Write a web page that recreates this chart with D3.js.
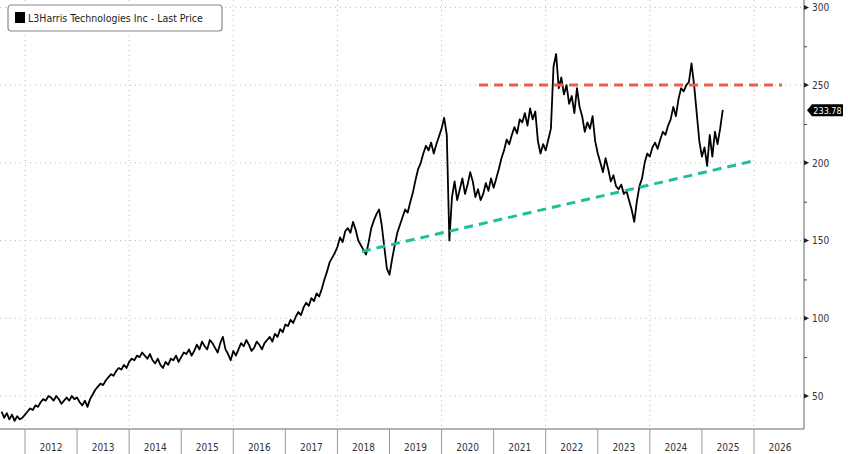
<!DOCTYPE html>
<html><head><meta charset="utf-8">
<script src="https://cdn.jsdelivr.net/npm/d3@7"></script>
<style>body{margin:0;background:#fff}svg{display:block}</style>
</head><body><svg id="c" width="848" height="454"></svg>
<script>
const years = [2012,2013,2014,2015,2016,2017,2018,2019,2020,2021,2022,2023,2024,2025,2026];
const yTicks = [50,100,150,200,250,300];
// prices sampled every 0.05 year, one list per calendar year
const p2011 = [40,36,39,35,38,34,37,35,36];
const p2012 = [38,40,42,41,44,43,46,48,47,50,49,47,50,48,45,47,49,47,50,48];
const p2013 = [49,46,44,47,43,48,51,54,56,58,57,60,62,64,63,66,68,67,70,68];
const p2014 = [72,74,73,76,75,78,76,74,77,73,71,74,70,68,72,70,74,73,76,72];
const p2015 = [75,78,77,80,76,79,83,80,85,82,80,86,84,81,78,84,88,80,77,73];
const p2016 = [79,76,80,84,82,86,83,79,81,85,83,80,84,86,88,85,90,88,93,91];
const p2017 = [96,95,99,97,101,104,102,107,110,108,113,111,116,114,119,125,130,136,139,142];
const p2018 = [146,152,149,156,158,155,162,157,150,147,144,141,149,158,163,167,170,160,146,132];
const p2019 = [128,138,147,155,160,165,170,168,175,181,189,196,200,206,211,208,213,206,212,217];
const p2020 = [222,229,218,150,178,188,176,183,190,180,186,194,188,178,183,176,180,187,182,190];
const p2021 = [184,190,196,203,208,215,212,218,223,219,228,226,232,224,235,228,233,214,206,212];
const p2022 = [208,215,222,262,270,248,255,244,250,238,243,232,248,236,230,220,226,222,230,214];
const p2023 = [206,200,194,203,196,188,192,185,183,186,180,182,176,170,162,175,185,190,200,206];
const p2024 = [204,210,213,209,215,220,218,224,228,236,230,241,248,246,250,252,264,250,232,214];
const p2025 = [204,210,198,218,204,220,212,222,234];
const yearSeries = [[2011.55,p2011],[2012,p2012],[2013,p2013],[2014,p2014],[2015,p2015],[2016,p2016],[2017,p2017],[2018,p2018],[2019,p2019],[2020,p2020],[2021,p2021],[2022,p2022],[2023,p2023],[2024,p2024],[2025,p2025]];
const step = 0.05;
const lastPrice = 233.78;

const pL=0, pR=804, pT=0, pB=429;
const svg=d3.select("#c");
const x=d3.scaleLinear().domain([2012,2026]).range([25,754]);
const y=d3.scaleLinear().domain([50,300]).range([396,7.4]);
const font="DejaVu Sans Condensed, DejaVu Sans";

svg.append("g").selectAll("line").data(yTicks).join("line")
  .attr("x1",pL).attr("x2",pR).attr("y1",d=>y(d)).attr("y2",d=>y(d))
  .attr("stroke","#bbb").attr("stroke-dasharray","1,4");
svg.append("g").selectAll("line").data(years.filter(v=>v%2===0)).join("line")
  .attr("x1",d=>x(d)).attr("x2",d=>x(d)).attr("y1",pT).attr("y2",pB)
  .attr("stroke","#bbb").attr("stroke-dasharray","1,4");

svg.append("line").attr("x1",pL).attr("x2",pR).attr("y1",pB).attr("y2",pB).attr("stroke","#666");
svg.append("line").attr("x1",pR).attr("x2",pR).attr("y1",pT).attr("y2",pB).attr("stroke","#666");
svg.append("g").selectAll("line").data(years).join("line")
  .attr("x1",d=>x(d)).attr("x2",d=>x(d)).attr("y1",pB).attr("y2",454).attr("stroke","#999");
svg.append("g").selectAll("text").data(years).join("text")
  .attr("x",d=>x(d+0.5)).attr("y",451).attr("text-anchor","middle")
  .attr("font-family",font).attr("font-size",10).attr("fill","#333").text(d=>d);
const yAxis=d3.axisRight(y).tickValues(d3.range(50,301,25)).tickSize(3).tickFormat(d=>d%50===0?d:"");
const ga=svg.append("g").attr("transform",`translate(${pR},0)`).call(yAxis);
ga.select(".domain").remove();
ga.selectAll("line").attr("stroke","#444");
ga.selectAll("text").attr("font-family",font).attr("font-size",10).attr("fill","#333").attr("x",8);
svg.append("g").selectAll("path").data(yTicks).join("path")
  .attr("d",d=>`M${pR},${y(d)-2.5}L${pR+5},${y(d)}L${pR},${y(d)+2.5}Z`).attr("fill","#222");

const pts=[];
yearSeries.forEach(([s,arr])=>arr.forEach((v,i)=>pts.push([s+i*step,v])));
svg.append("path").datum(pts).attr("fill","none").attr("stroke","#000").attr("stroke-width",1.8)
  .attr("stroke-linejoin","round")
  .attr("d",d3.line().x(d=>x(d[0])).y(d=>y(d[1])));

const resistX=[2020.72,2026.54], resistY=[250,250];
const supportX=[2018.47,2025.96], supportY=[143,201];
svg.append("line").attr("x1",x(resistX[0])).attr("x2",x(resistX[1])).attr("y1",y(resistY[0])).attr("y2",y(resistY[1]))
  .attr("stroke","#f05a4f").attr("stroke-width",3).attr("stroke-dasharray","9,6");
svg.append("line").attr("x1",x(supportX[0])).attr("x2",x(supportX[1])).attr("y1",y(supportY[0])).attr("y2",y(supportY[1]))
  .attr("stroke","#1fbf9c").attr("stroke-width",3).attr("stroke-dasharray","9,6");

const ly=y(lastPrice);
svg.append("path").attr("d",`M${pR+3},${ly}L${pR+8},${ly-6}L${pR+39},${ly-6}L${pR+39},${ly+6}L${pR+8},${ly+6}Z`).attr("fill","#000");
svg.append("text").attr("x",pR+23.5).attr("y",ly+3.5).attr("text-anchor","middle").attr("fill","#fff")
  .attr("font-family",font).attr("font-size",9).text(lastPrice.toFixed(2));

svg.append("rect").attr("x",8).attr("y",5).attr("width",214).attr("height",26).attr("rx",3)
  .attr("fill","#fff").attr("stroke","#888").attr("stroke-width",1.2);
svg.append("rect").attr("x",15).attr("y",12).attr("width",10).attr("height",11).attr("fill","#000");
svg.append("text").attr("x",28).attr("y",22).attr("font-family",font)
  .attr("font-size",10.5).attr("fill","#222").text("L3Harris Technologies Inc - Last Price");
</script></body></html>
